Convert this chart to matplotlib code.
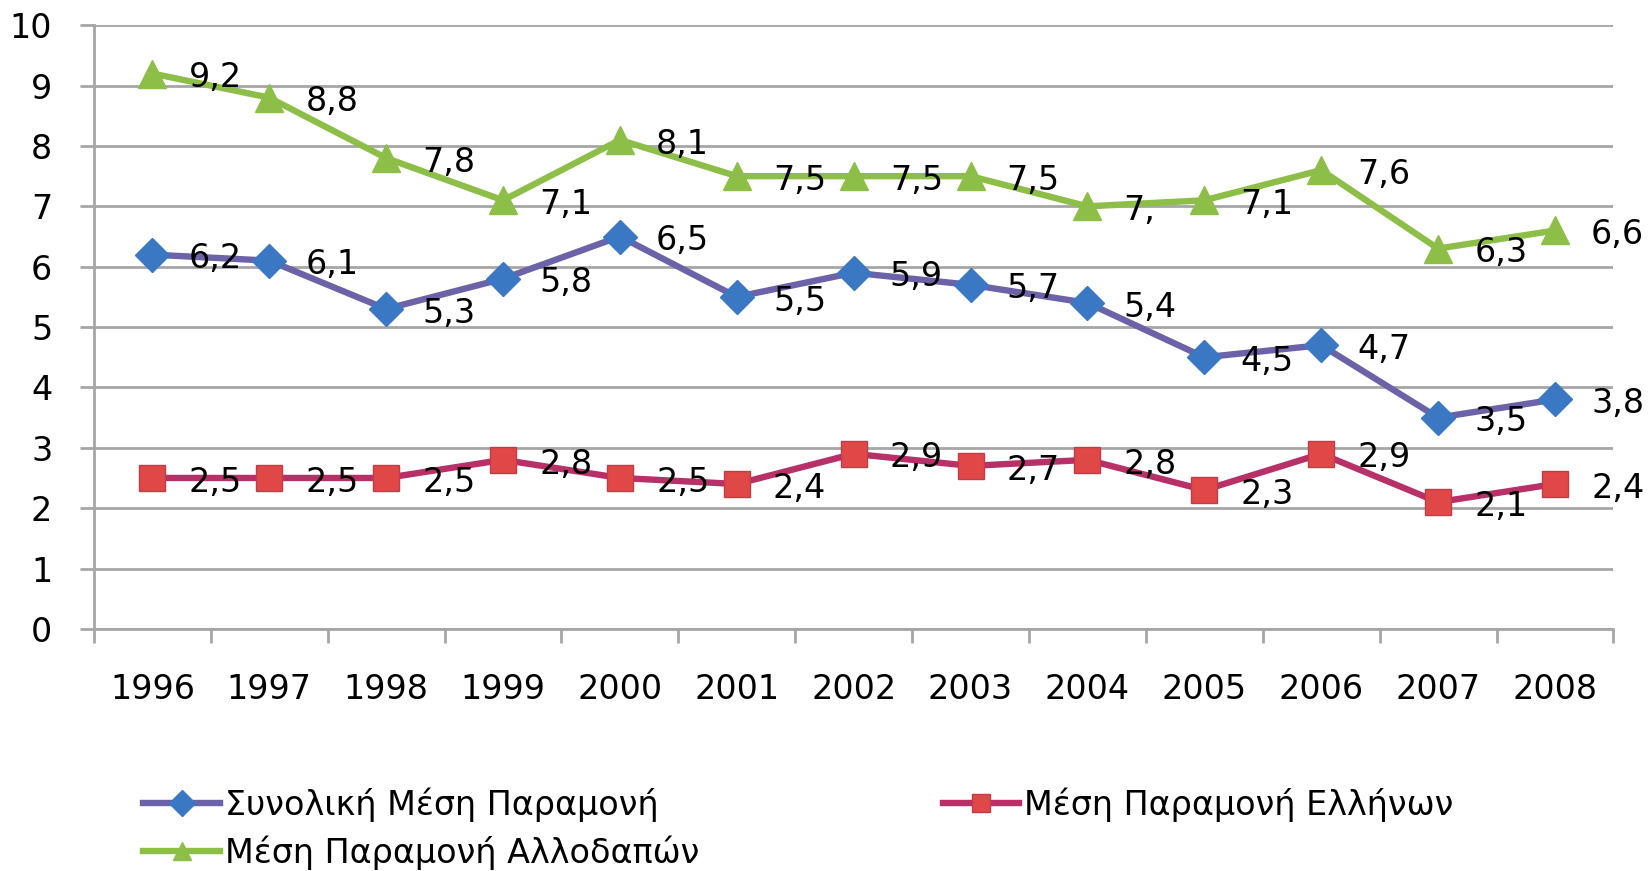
import numpy as np
import matplotlib
matplotlib.use("Agg")
import matplotlib.pyplot as plt

years = ["1996", "1997", "1998", "1999", "2000", "2001", "2002",
         "2003", "2004", "2005", "2006", "2007", "2008"]
total = [6.2, 6.1, 5.3, 5.8, 6.5, 5.5, 5.9, 5.7, 5.4, 4.5, 4.7, 3.5, 3.8]
greeks = [2.5, 2.5, 2.5, 2.8, 2.5, 2.4, 2.9, 2.7, 2.8, 2.3, 2.9, 2.1, 2.4]
foreign = [9.2, 8.8, 7.8, 7.1, 8.1, 7.5, 7.5, 7.5, 7.0, 7.1, 7.6, 6.3, 6.6]

names = ["Συνολική Μέση Παραμονή", "Μέση Παραμονή Ελλήνων",
         "Μέση Παραμονή Αλλοδαπών"]

plt.rcParams['font.family'] = ['DejaVu Sans']
FS = 24
grid_c = "#a6a6a6"


def fmt(v):
    s = f"{v:g}".replace(".", ",")
    return s if "," in s else s + ","


fig = plt.figure(figsize=(16.48, 8.71), dpi=100)
ax = fig.add_axes([0.057, 0.278, 0.922, 0.693])
x = np.arange(len(years))

l1, = ax.plot(x, total, color="#6c62a8", lw=4.6, marker="D", ms=17,
              mfc="#3a78c4", mec="#3a78c4", zorder=3)
l2, = ax.plot(x, greeks, color="#b83068", lw=4.6, marker="s", ms=19,
              mfc="#e04848", mec="#c23c48", zorder=3)
l3, = ax.plot(x, foreign, color="#8dbf48", lw=4.6, marker="^", ms=20,
              mfc="#8dbf48", mec="#8dbf48", zorder=3)

for series in (total, greeks, foreign):
    for xi, v in zip(x, series):
        ax.annotate(fmt(v), (xi, v), xytext=(26, -3), textcoords="offset points",
                    ha="left", va="center", fontsize=FS, color="black", zorder=5)

ax.set_xlim(-0.5, len(years) - 0.5)
ax.set_ylim(0, 10)
ax.set_yticks(range(0, 11))
ax.set_xticks(np.arange(-0.5, len(years), 1.0))
ax.set_xticklabels([])
ax.set_xticks(x, minor=True)
ax.set_xticklabels(years, minor=True)
ax.tick_params(axis="x", which="major", length=10, width=2, color=grid_c)
ax.tick_params(axis="x", which="minor", length=0, pad=32, labelsize=FS)
ax.tick_params(axis="y", length=10, width=2, color=grid_c, pad=20, labelsize=FS)

ax.grid(axis="y", color=grid_c, lw=2)
ax.set_axisbelow(True)
for s in ("top", "right"):
    ax.spines[s].set_visible(False)
for s in ("left", "bottom"):
    ax.spines[s].set_color(grid_c)
    ax.spines[s].set_linewidth(2)

leg = fig.legend([l1, l3, l2], [names[0], names[2], names[1]], ncol=2,
                 loc="upper left", bbox_to_anchor=(0.087, 0.096),
                 frameon=False, fontsize=FS, handlelength=2.3,
                 handletextpad=0.15, columnspacing=7.3, labelspacing=0.4,
                 borderpad=0, borderaxespad=0)
for h in leg.legend_handles:
    h.set_markersize(13)

fig.savefig("out.png", dpi=100)
